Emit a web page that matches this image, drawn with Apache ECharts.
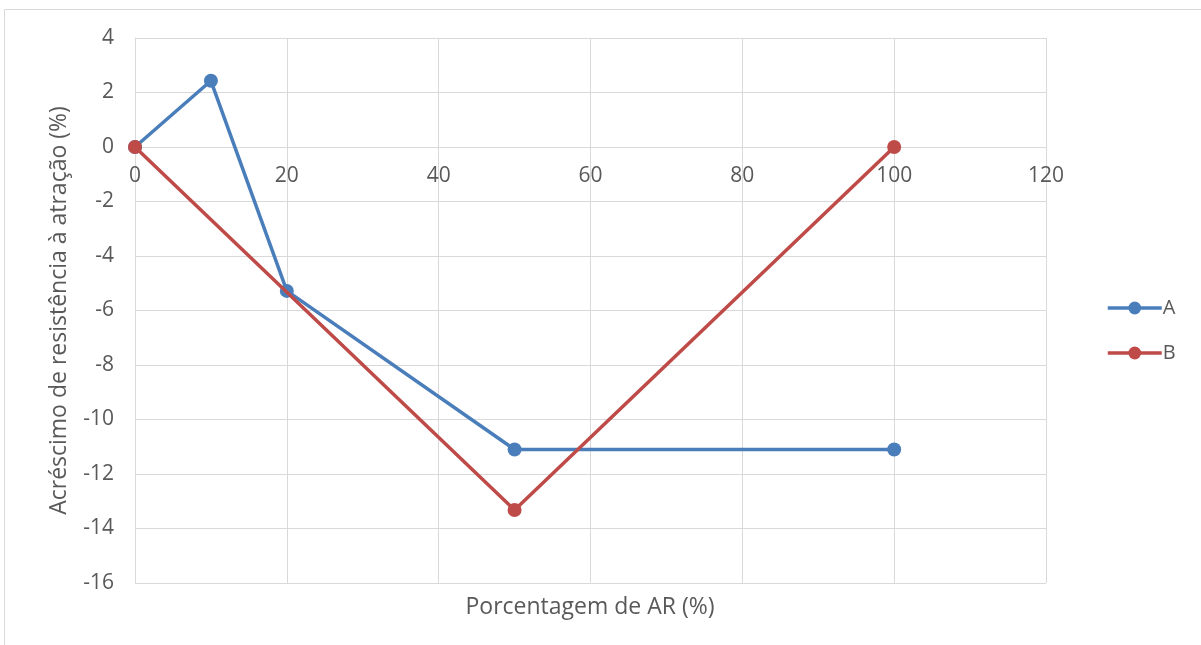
<!DOCTYPE html>
<html>
<head>
<meta charset="utf-8">
<script src="https://cdn.jsdelivr.net/npm/echarts@6/dist/echarts.min.js"></script>
<style>
  html, body { margin: 0; padding: 0; background: #ffffff; }
  #chart { width: 1201px; height: 645px; }
</style>
</head>
<body>
<div id="chart"></div>
<script>
// Series A and B: resistance increase vs. AR percentage
const seriesNames = ['A', 'B'];
const xA = [0, 10, 20, 50, 100];
const yA = [0, 2.43, -5.28, -11.1, -11.1];
const xB = [0, 50, 100];
const yB = [0, -13.32, 0];

const xAxisTitle = 'Porcentagem de AR (%)';
const yAxisTitle = 'Acréscimo de resistência à atração (%)';

const pair = (xs, ys) => xs.map((x, i) => [x, ys[i]]);

const font = '"Open Sans", "Liberation Sans", sans-serif';
const textColor = '#595959';
const gridColor = '#d9d9d9';
const colorA = '#4a7ebb';
const colorB = '#be4b48';

const chart = echarts.init(document.getElementById('chart'), null, { renderer: 'canvas' });

chart.setOption({
  backgroundColor: '#ffffff',
  animation: false,
  textStyle: { fontFamily: font },
  grid: { left: 135, right: 155, top: 38, bottom: 62, containLabel: false },
  legend: {
    orient: 'vertical',
    left: 1101,
    top: 293,
    itemWidth: 54,
    itemHeight: 16,
    itemGap: 25,
    data: seriesNames,
    lineStyle: { width: 3.5 },
    textStyle: { fontFamily: font, fontSize: 20, color: textColor, padding: [0, 0, 0, -4] }
  },
  xAxis: {
    type: 'value',
    min: 0, max: 120, interval: 20,
    axisLine: { show: true, onZero: false, lineStyle: { color: gridColor, width: 1 } },
    axisTick: { show: false },
    axisLabel: { color: textColor, fontSize: 21, fontFamily: font, margin: 19 },
    splitLine: { show: true, lineStyle: { color: gridColor, width: 1 } }
  },
  yAxis: {
    type: 'value',
    min: -16, max: 4, interval: 2,
    name: yAxisTitle,
    nameLocation: 'middle',
    nameGap: 64,
    nameTextStyle: { color: textColor, fontSize: 23, fontFamily: font },
    axisLine: { show: true, onZero: false, lineStyle: { color: gridColor, width: 1 } },
    axisTick: { show: false },
    axisLabel: { color: textColor, fontSize: 21, fontFamily: font, margin: 21 },
    splitLine: { show: true, lineStyle: { color: gridColor, width: 1 } }
  },
  graphic: [
    {
      type: 'rect',
      silent: true,
      shape: { x: 4.5, y: 9.5, width: 1300, height: 800 },
      style: { fill: 'none', stroke: gridColor, lineWidth: 1 }
    },
    {
      type: 'text',
      x: 590,
      y: 607,
      style: {
        text: xAxisTitle, fill: textColor, fontSize: 23, fontFamily: font,
        align: 'center', verticalAlign: 'middle'
      }
    }
  ],
  series: [
    {
      name: seriesNames[0],
      type: 'line',
      data: pair(xA, yA),
      symbol: 'circle',
      symbolSize: 14,
      lineStyle: { color: colorA, width: 3.5 },
      itemStyle: { color: colorA },
      z: 2
    },
    {
      name: seriesNames[1],
      type: 'line',
      data: pair(xB, yB),
      symbol: 'circle',
      symbolSize: 14,
      lineStyle: { color: colorB, width: 3.5 },
      itemStyle: { color: colorB },
      z: 3
    }
  ]
});

// Move the horizontal axis (line and labels) up so it crosses at y = 0
const zeroY = chart.convertToPixel({ yAxisIndex: 0 }, 0);
const bottomY = chart.convertToPixel({ yAxisIndex: 0 }, -16);
chart.setOption({ xAxis: { offset: -(bottomY - zeroY) } });
</script>
</body>
</html>
